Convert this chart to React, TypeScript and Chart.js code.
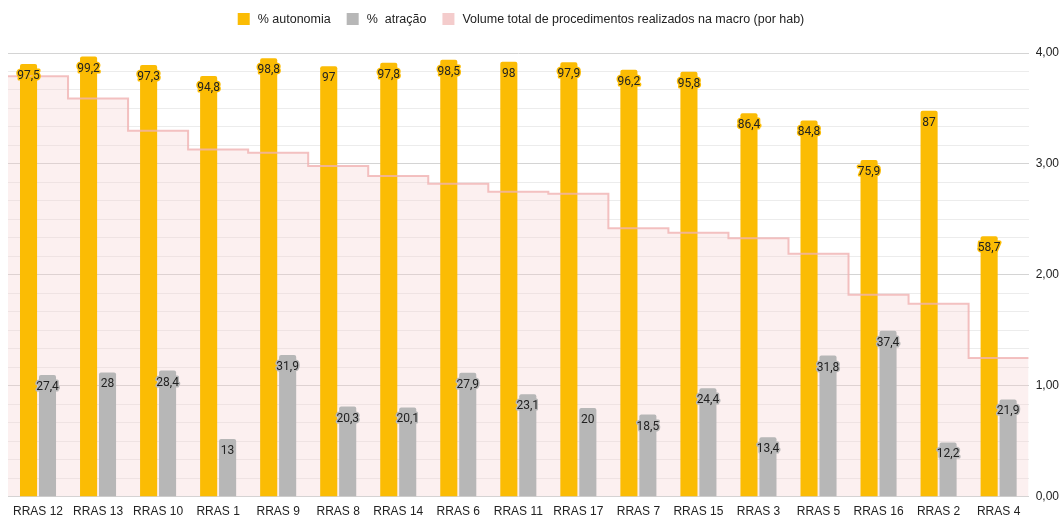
import React, { useEffect, useRef } from "react";
import { Chart, registerables } from "chart.js";

Chart.register(...registerables);

const categories = [
  "RRAS 12", "RRAS 13", "RRAS 10", "RRAS 1", "RRAS 9", "RRAS 8", "RRAS 14", "RRAS 6",
  "RRAS 11", "RRAS 17", "RRAS 7", "RRAS 15", "RRAS 3", "RRAS 5", "RRAS 16", "RRAS 2", "RRAS 4",
];
const autonomia = [97.5, 99.2, 97.3, 94.8, 98.8, 97, 97.8, 98.5, 98, 97.9, 96.2, 95.8, 86.4, 84.8, 75.9, 87, 58.7];
const atracao = [27.4, 28, 28.4, 13, 31.9, 20.3, 20.1, 27.9, 23.1, 20, 18.5, 24.4, 13.4, 31.8, 37.4, 12.2, 21.9];
const volume = [3.79, 3.59, 3.3, 3.13, 3.1, 2.98, 2.89, 2.82, 2.75, 2.73, 2.42, 2.38, 2.33, 2.19, 1.82, 1.74, 1.25];
const rightTicks = [0, 1, 2, 3, 4];
const seriesNames = ["% autonomia", "%  atração", "Volume total de procedimentos realizados na macro (por hab)"];

const YELLOW = "#fbbc04";
const GRAY = "#b7b7b7";
const PINK = "#f4cccc";
const LEGEND_COLORS = [YELLOW, GRAY, PINK];

const fmt = (v: number) => String(v).replace(".", ",");

const labelPlugin = {
  id: "barLabels",
  afterDatasetsDraw(chart: any) {
    const ctx = chart.ctx;
    ctx.save();
    ctx.font = "12px Roboto";
    ctx.textAlign = "center";
    ctx.textBaseline = "middle";
    ctx.lineJoin = "round";
    [0, 1].forEach((di) => {
      const meta = chart.getDatasetMeta(di);
      const ds = chart.data.datasets[di];
      meta.data.forEach((el: any, i: number) => {
        const t = fmt(ds.data[i].y);
        const y = el.y + 12;
        ctx.lineWidth = 3;
        ctx.strokeStyle = ds.backgroundColor;
        ctx.strokeText(t, el.x, y);
        ctx.fillStyle = "#222";
        ctx.fillText(t, el.x, y);
      });
    });
    ctx.restore();
  },
};

const legendPlugin = {
  id: "customLegend",
  afterDraw(chart: any) {
    const ctx = chart.ctx;
    ctx.save();
    ctx.font = "12.5px 'Liberation Sans', Arial";
    ctx.textBaseline = "middle";
    ctx.textAlign = "left";
    const box = 12, gapText = 8, gapItem = 16;
    const widths = seriesNames.map((s) => ctx.measureText(s).width);
    const total = widths.reduce((a, b) => a + b, 0) + seriesNames.length * (box + gapText) + (seriesNames.length - 1) * gapItem;
    let x = 521 - total / 2;
    const cy = 19;
    seriesNames.forEach((s, i) => {
      ctx.fillStyle = LEGEND_COLORS[i];
      ctx.fillRect(x, cy - box / 2, box, box);
      x += box + gapText;
      ctx.fillStyle = "#222";
      ctx.fillText(s, x, cy + 0.5);
      x += widths[i] + gapItem;
    });
    ctx.restore();
  },
};

export default function App() {
  const ref = useRef<HTMLCanvasElement | null>(null);
  useEffect(() => {
    if (!ref.current) return;
    const n = categories.length;
    const autPts = autonomia.map((v, i) => ({ x: i, y: v }));
    const atrPts = atracao.map((v, i) => ({ x: i, y: v }));
    const linePts = [
      { x: -0.5, y: volume[0] },
      ...volume.map((v, i) => ({ x: i, y: v })),
      { x: n - 0.5, y: volume[n - 1] },
    ];
    const chart = new Chart(ref.current, {
      type: "bar",
      data: {
        datasets: [
          {
            label: seriesNames[0],
            data: autPts as any,
            backgroundColor: YELLOW,
            yAxisID: "y",
            categoryPercentage: 0.632,
            barPercentage: 0.9,
            borderRadius: { topLeft: 2, topRight: 2 },
            order: 1,
          } as any,
          {
            label: seriesNames[1],
            data: atrPts as any,
            backgroundColor: GRAY,
            yAxisID: "y",
            categoryPercentage: 0.632,
            barPercentage: 0.9,
            borderRadius: { topLeft: 2, topRight: 2 },
            order: 1,
          } as any,
          {
            type: "line",
            label: seriesNames[2],
            data: linePts as any,
            yAxisID: "y1",
            stepped: "middle",
            borderColor: "rgba(240,178,178,0.8)",
            borderWidth: 2,
            backgroundColor: "rgba(244,204,204,0.3)",
            fill: "origin",
            pointRadius: 0,
            order: 0,
          } as any,
        ],
      },
      options: {
        animation: false,
        responsive: false,
        maintainAspectRatio: false,
        layout: { padding: { left: 8, right: -3, top: 53, bottom: -9 } },
        plugins: {
          tooltip: { enabled: false },
          filler: { drawTime: "beforeDatasetsDraw" } as any,
          legend: { display: false },
        },
        scales: {
          x: {
            type: "linear",
            min: -0.5,
            max: n - 0.5,
            offset: false,
            grid: { display: false, drawTicks: false },
            border: { display: false },
            afterBuildTicks: (axis: any) => {
              axis.ticks = categories.map((_, i) => ({ value: i }));
            },
            ticks: {
              color: "#222",
              font: { family: "'Liberation Sans', Arial", size: 12 },
              maxRotation: 0,
              autoSkip: false,
              padding: 8,
              callback: (v: any) => categories[Math.round(v)] ?? "",
            },
          },
          y: {
            type: "linear",
            display: false,
            min: 0,
            max: 100,
          },
          y1: {
            type: "linear",
            position: "right",
            min: 0,
            max: 4,
            afterBuildTicks: (axis: any) => {
              const t: any[] = [];
              for (let i = 0; i <= 24; i++) t.push({ value: i / 6 });
              axis.ticks = t;
            },
            border: { display: false },
            grid: {
              drawTicks: false,
              color: (c: any) => {
                const v = c.tick ? c.tick.value : 0;
                return rightTicks.some((r) => Math.abs(r - v) < 1e-6) ? "#d4d4d4" : "#ececec";
              },
            },
            ticks: {
              padding: 7,
              color: "#222",
              font: { family: "'Liberation Sans', Arial", size: 12 },
              callback: (v: any) => {
                const r = rightTicks.find((x) => Math.abs(x - v) < 1e-6);
                return r === undefined ? "" : r.toFixed(2).replace(".", ",");
              },
            },
          },
        },
      },
      plugins: [labelPlugin, legendPlugin],
    });
    return () => chart.destroy();
  }, []);
  return (
    <div style={{ position: "fixed", left: 0, top: 0, width: 1063, height: 518, background: "#fff" }}>
      <canvas ref={ref} width={1063} height={518} style={{ width: 1063, height: 518 }} />
    </div>
  );
}
